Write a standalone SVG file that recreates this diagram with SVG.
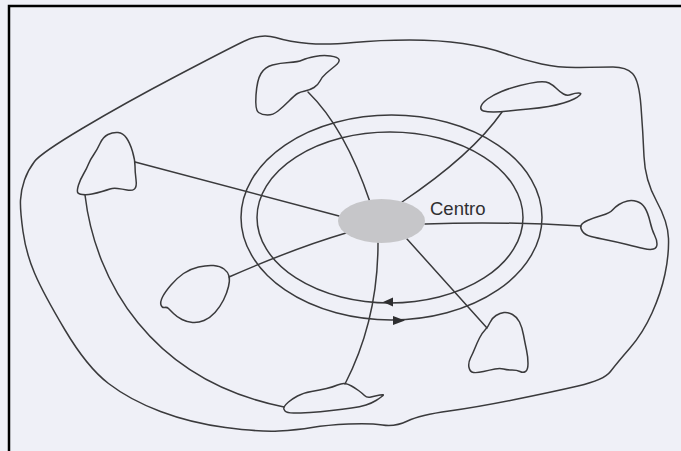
<svg xmlns="http://www.w3.org/2000/svg" width="681" height="451" viewBox="0 0 681 451">
<defs>
<style>
.ln{fill:none;stroke:#3a3a3c;stroke-width:1.5;stroke-linejoin:round;stroke-linecap:round}
.ar{fill:#2e2e30;stroke:none}
.lbl{font-family:"Liberation Sans",Arial,sans-serif;font-size:18.5px;fill:#2f2f31}
</style>
</defs>
<rect x="0" y="0" width="681" height="451" fill="#eff0f7"/>
<path d="M9,451 V6 H681" fill="none" stroke="#000" stroke-width="2.5"/>

<g id="region">
<path class="ln" d="M83,128 Q125,103 175.5,76.5 Q226,50 243.5,41.5 Q261,33 275.5,37.5 Q290,42 308.5,43.5 Q327,45 353.5,42.5 Q380,40 409.5,40 Q439,40 463,43.5 Q487,47 505,53.5 Q523,60 541.5,64 Q560,68 580,67.5 Q600,67 613,67 Q626,67 632.5,73.5 Q639,80 641,106.5 Q643,133 644,156.5 Q645,180 656.5,201 Q668,222 668.5,238.5 Q669,255 665,274 Q661,293 652,313 Q643,333 630,348 Q617,363 610.5,371.5 Q604,380 578,386 Q552,392 515,399.5 Q478,407 449,411 Q420,415 407.5,421 Q395,427 382.5,425 Q370,423 348.5,424 Q327,425 312,427.5 Q297,430 278.5,431 Q260,432 225.5,427.5 Q191,423 160.5,411.5 Q130,400 108.5,383.5 Q87,367 65,330 Q43,293 34.5,273 Q26,253 23,231.5 Q20,210 20.5,200 Q21,190 24.5,180 Q28,170 34.5,161.5 Q41,153 83,128 Z"/>
</g>

<g id="rings">
<ellipse class="ln" cx="391.5" cy="217.5" rx="150.5" ry="102.5"/>
<ellipse class="ln" cx="390" cy="217.5" rx="133" ry="85.5"/>
<polygon class="ar" points="383,302 393,297.5 393,306.5"/>
<polygon class="ar" points="405,320.5 393,316 393,325"/>
</g>

<g id="connectors">
<path class="ln" d="M308,92 Q345,128 370,202"/>
<path class="ln" d="M502,112 Q472,155 402,202"/>
<path class="ln" d="M425,224 Q500,221 581,226"/>
<path class="ln" d="M407,239 L487,328"/>
<path class="ln" d="M378,243 Q378,320 345,384"/>
<path class="ln" d="M346,233 Q295,248 229,277"/>
<path class="ln" d="M135,162 Q240,190 339,216"/>
<path class="ln" d="M85,195 C95,280 150,380 284,407"/>
</g>

<g id="centro">
<ellipse cx="381.5" cy="221" rx="43.5" ry="22" fill="#c6c6c9"/>
<text class="lbl" x="430" y="215">Centro</text>
</g>

<g id="node-top">
<path class="ln" d="M256,95 Q257,80 261,73.5 Q265,67 272.5,65 Q280,63 289,62.5 Q298,62 302.5,60 Q307,58 315,56.5 Q323,55 330.5,56 Q338,57 339,59.5 Q340,62 335,66 Q330,70 326,73.5 Q322,77 320,81 Q318,85 314,87.5 Q310,90 305,91 Q300,92 297.5,93.5 Q295,95 289,101 Q283,107 278,111 Q273,115 267.5,115 Q262,115 258.5,112.5 Q255,110 256,95 Z"/>
</g>
<g id="node-upper-right">
<path class="ln" d="M481,106.5 Q482,103 487.5,99 Q493,95 501.5,91.5 Q510,88 520,85.5 Q530,83 537.5,82 Q545,81 549,83 Q553,85 556.5,88.5 Q560,92 563.5,94 Q567,96 571,94.5 Q575,93 578.5,93 Q582,93 580,95 Q578,97 574,99 Q570,101 563.5,103 Q557,105 548.5,106.5 Q540,108 528.5,109 Q517,110 508.5,111 Q500,112 493.5,112 Q487,112 483.5,111 Q480,110 481,106.5 Z"/>
</g>
<g id="node-right">
<path class="ln" d="M581,225.5 Q582,223 587.5,220.5 Q593,218 601.5,215.5 Q610,213 612.5,210 Q615,207 619,204.5 Q623,202 627.5,201 Q632,200 637,201.5 Q642,203 645,208 Q648,213 650,221.5 Q652,230 654.5,235 Q657,240 657,244 Q657,248 653.5,249 Q650,250 643.5,248.5 Q637,247 627,244.5 Q617,242 607,240 Q597,238 591,236.5 Q585,235 582.5,231.5 Q580,228 581,225.5 Z"/>
</g>
<g id="node-lower-right">
<path class="ln" d="M504,312.5 Q508,312 512.5,314.5 Q517,317 519.5,322 Q522,327 523.5,335 Q525,343 526.5,350 Q528,357 528,363.5 Q528,370 525.5,371.5 Q523,373 520,371.5 Q517,370 512,370 Q507,370 503.5,369 Q500,368 495,369 Q490,370 483.5,371.5 Q477,373 473.5,372.5 Q470,372 469,367.5 Q468,363 470.5,358 Q473,353 475,348 Q477,343 479.5,338 Q482,333 485,330 Q488,327 490,322.5 Q492,318 496,315.5 Q500,313 504,312.5 Z"/>
</g>
<g id="node-bottom">
<path class="ln" d="M284,407 Q285,405 288.5,402 Q292,399 297.5,396 Q303,393 311.5,391.5 Q320,390 326.5,388.5 Q333,387 337.5,385 Q342,383 345,383.5 Q348,384 351.5,386 Q355,388 358.5,390.5 Q362,393 364.5,395.5 Q367,398 371,397 Q375,396 380,395 Q385,394 382.5,396 Q380,398 376,400.5 Q372,403 366,405 Q360,407 351.5,408 Q343,409 331.5,410.5 Q320,412 310,412.5 Q300,413 293.5,413 Q287,413 285,411 Q283,409 284,407 Z"/>
</g>
<g id="node-lower-left">
<path class="ln" d="M162.5,297 Q165,292 171,285 Q177,278 183.5,273.5 Q190,269 198.5,267 Q207,265 213.5,265.5 Q220,266 224,269 Q228,272 229,276 Q230,280 228.5,286.5 Q227,293 223.5,300 Q220,307 215,312.5 Q210,318 204,320.5 Q198,323 192.5,322.5 Q187,322 182,319.5 Q177,317 173.5,313.5 Q170,310 168.5,308.5 Q167,307 164.5,307.5 Q162,308 161,305 Q160,302 162.5,297 Z"/>
</g>
<g id="node-left">
<path class="ln" d="M78.5,185 Q80,180 83.5,174 Q87,168 88.5,164 Q90,160 93.5,155 Q97,150 100,143.5 Q103,137 108,134.5 Q113,132 118,132.5 Q123,133 126.5,138 Q130,143 132.5,151.5 Q135,160 135,166 Q135,172 136,179.5 Q137,187 134.5,189 Q132,191 127,190 Q122,189 117.5,188.5 Q113,188 110,189 Q107,190 102,191.5 Q97,193 92,194 Q87,195 82.5,194.5 Q78,194 77.5,192 Q77,190 78.5,185 Z"/>
</g>
</svg>
